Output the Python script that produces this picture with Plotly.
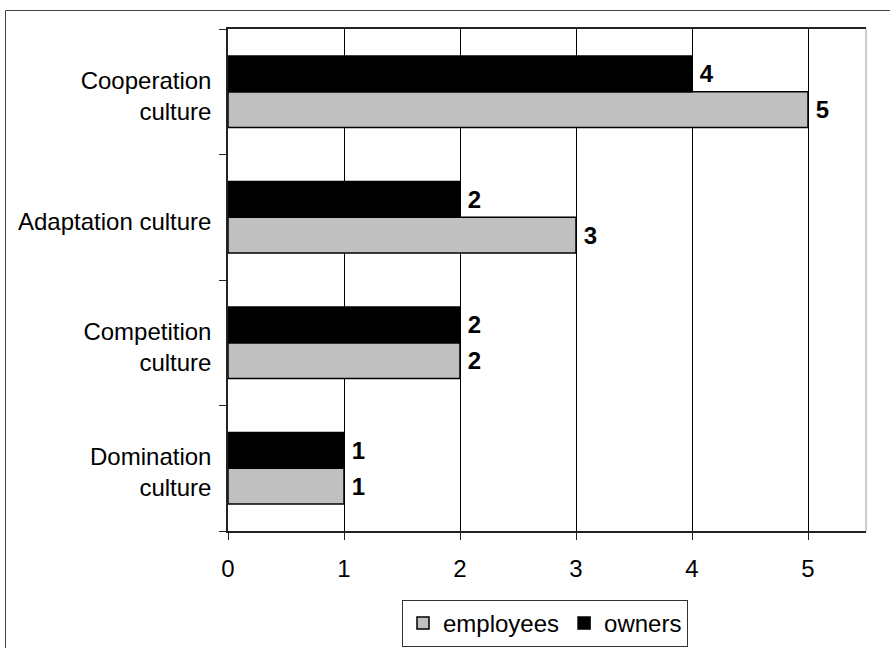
import plotly.graph_objects as go

categories = ["Domination<br>culture", "Competition<br>culture", "Adaptation culture", "Cooperation<br>culture"]
employees = [1, 2, 3, 5]
owners = [1, 2, 2, 4]
x_ticks = [0, 1, 2, 3, 4, 5]

FONT = "Liberation Sans, Arial, sans-serif"
FS = 24

fig = go.Figure()
fig.add_trace(go.Bar(
    y=categories, x=employees, name="employees", orientation="h",
    marker=dict(color="#C0C0C0", line=dict(color="black", width=1.5)),
    texttemplate="\u2009%{x}", textposition="outside", cliponaxis=False,
    textfont=dict(family=FONT, size=FS, color="black", weight="bold"),
))
fig.add_trace(go.Bar(
    y=categories, x=owners, name="owners", orientation="h",
    marker=dict(color="black", line=dict(color="black", width=1.5)),
    texttemplate="\u2009%{x}", textposition="outside", cliponaxis=False,
    textfont=dict(family=FONT, size=FS, color="black", weight="bold"),
))

L, R, T, B = 228, 24, 29, 117
W, H = 890, 648
pw, ph = W - L - R, H - T - B

def px_x(p):
    return (p - L) / pw

def px_y(p):
    return (H - B - p) / ph

fig.update_layout(
    width=W, height=H,
    margin=dict(l=L, r=R, t=T, b=B, pad=0, autoexpand=False),
    paper_bgcolor="white", plot_bgcolor="white",
    barmode="group", bargap=0.43, bargroupgap=0,
    font=dict(family=FONT, size=FS, color="black"),
    showlegend=True,
    legend=dict(
        orientation="h", xref="container", x=545 / W, xanchor="center",
        yref="container", y=1 - 600 / H, yanchor="top",
        bordercolor="#333", borderwidth=1, bgcolor="white",
        font=dict(family=FONT, size=FS, color="black"),
        traceorder="normal",
    ),
    xaxis=dict(
        range=[0, 5.5], tickvals=x_ticks, ticktext=[str(v) for v in x_ticks],
        showgrid=True, gridcolor="black", gridwidth=1,
        zeroline=False, showline=True, linecolor="#222", linewidth=1.5, mirror=True,
        ticks="outside", ticklen=7, tickcolor="#222", tickwidth=1,
        ticklabelstandoff=8,
        tickfont=dict(family=FONT, size=FS, color="black"),
    ),
    yaxis=dict(
        type="category", categoryorder="array", categoryarray=categories,
        showgrid=False, zeroline=False, showline=True, linecolor="#222", linewidth=1.5,
        ticks="outside", ticklen=7, tickcolor="#222", tickwidth=1, tickson="boundaries",
        ticklabelstandoff=10, ticklabelshift=4,
        tickfont=dict(family=FONT, size=FS, color="black"),
    ),
    shapes=[
        dict(type="line", xref="paper", yref="paper", x0=1, x1=1, y0=0, y1=1,
             line=dict(color="#999", width=1)),
        dict(type="line", xref="paper", yref="paper", x0=px_x(5.5), x1=px_x(895),
             y0=px_y(10.5), y1=px_y(10.5), line=dict(color="#444", width=1)),
        dict(type="line", xref="paper", yref="paper", x0=px_x(5.5), x1=px_x(5.5),
             y0=px_y(10.5), y1=px_y(660), line=dict(color="#444", width=1)),
    ],
)

fig.write_html("out.html")
